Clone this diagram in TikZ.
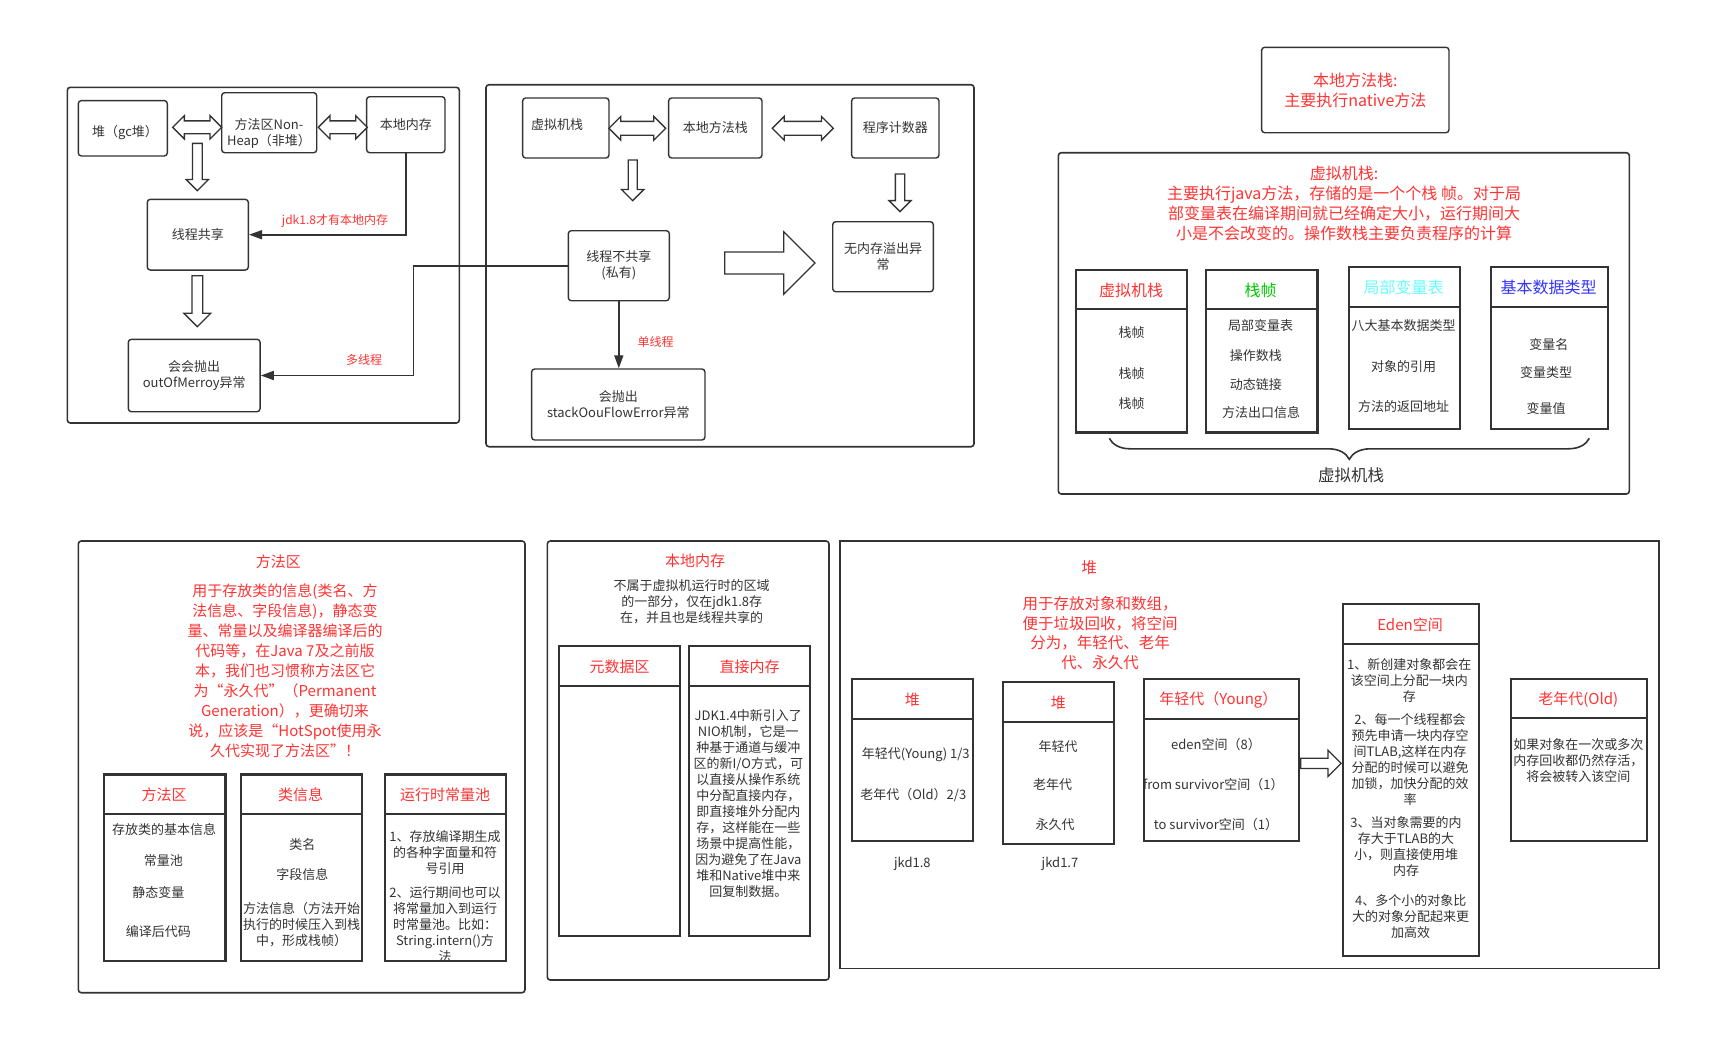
\documentclass[tikz,border=0pt]{standalone}
\usepackage{fontspec}
\setmainfont{Noto Sans CJK SC}
\usetikzlibrary{arrows.meta}
\usetikzlibrary{shapes.arrows}
\usetikzlibrary{decorations.pathreplacing}
\definecolor{linegray}{HTML}{333333}
\definecolor{jred}{HTML}{FF3333}
\definecolor{jgreen}{HTML}{00C800}
\definecolor{jcyan}{HTML}{66FFFF}
\definecolor{jblue}{HTML}{3333FF}

\begin{document}
\begin{tikzpicture}[x=1pt,y=-1pt,
  every node/.style={text=linegray,font=\fontsize{13}{16}\selectfont,inner sep=0pt},
  box/.style={draw=linegray,line width=1.4pt,rounded corners=3pt},
  panel/.style={draw=linegray,line width=1.6pt,rounded corners=3pt},
  tbl/.style={draw=linegray,line width=2.3pt},
  hd/.style={text=jred,font=\fontsize{15}{18}\selectfont},
  hdbig/.style={text=jred,font=\fontsize{16}{19}\selectfont},
  redtxt/.style={text=jred,align=center,font=\fontsize{15}{20}\selectfont},
  note/.style={text=jred,font=\fontsize{12}{14}\selectfont},
  conn/.style={draw=linegray,line width=1.6pt,-{Triangle[length=13pt,width=9pt]}},
  harrow/.style={single arrow,draw=linegray,line width=1.3pt,fill=white,inner xsep=0pt,anchor=tail},
  dharrow/.style={double arrow,draw=linegray,line width=1.3pt,fill=white,inner xsep=0pt}]

\useasboundingbox (0,0) rectangle (1720,1055);

% thread shared part
\draw[panel] (67.3,87.3) rectangle (459.3,423);
\node[box,minimum width=89,minimum height=55.3] (gcheap) at (122.8,128.3) {};
\node (gcheaptxt) at (125,133) {堆（gc堆）};
\node[box,minimum width=95,minimum height=60] (nonheap) at (269.2,122.7) {};
\node[align=center] (nonheaptxt) at (269,133.3) {方法区Non-\\Heap（非堆）};
\node[box,minimum width=78.3,minimum height=56] (localmem) at (405.8,124.7) {本地内存};
\node[box,minimum width=101,minimum height=70.7] (share) at (197.8,234.7) {线程共享};
\node[box,minimum width=131.7,minimum height=72.4,align=center] (oom) at (194.2,375.5) {会会抛出\\outOfMerroy异常};
\node[dharrow,minimum height=49,inner ysep=5.8pt,double arrow head extend=5.2pt] (ga1) at (197.2,127.3) {};
\node[dharrow,minimum height=49,inner ysep=5.8pt,double arrow head extend=5.2pt] (ga2) at (342.8,127.3) {};
\node[harrow,rotate=-90,minimum height=47.3,inner ysep=4.2pt,single arrow head extend=6.3pt] (da1) at (197.3,142.7) {};
\node[harrow,rotate=-90,minimum height=51,inner ysep=4.7pt,single arrow head extend=8pt] (da2) at (197.3,275) {};
\draw[conn] (localmem.south) |- (share.east);
\node[note] (jdknote) at (335,220.7) {jdk1.8才有本地内存};

% thread private part
\draw[panel] (486,84.7) rectangle (974,446.7);
\node[box,minimum width=86.3,minimum height=60] (jvmstack) at (565.8,128) {};
\node (jvmstacktxt) at (557,125) {虚拟机栈};
\node[box,minimum width=93.3,minimum height=60] (nativestack) at (715.3,128) {本地方法栈};
\node[box,minimum width=87.3,minimum height=60] (pc) at (895.3,128) {程序计数器};
\node[dharrow,minimum height=56.7,inner ysep=6.3pt,double arrow head extend=4.9pt] (ga3) at (637.3,128.3) {};
\node[dharrow,minimum height=61,inner ysep=6.3pt,double arrow head extend=4.9pt] (ga4) at (802.8,128.3) {};
\node[harrow,rotate=-90,minimum height=40.7,inner ysep=3.9pt,single arrow head extend=6.6pt] (da3) at (632.7,159.3) {};
\node[harrow,rotate=-90,minimum height=37.7,inner ysep=4pt,single arrow head extend=6.4pt] (da4) at (900,173.3) {};
\node[box,minimum width=101,minimum height=70,align=center] (private) at (618.8,265.7) {线程不共享\\(私有)};
\node[harrow,minimum height=90.3,inner ysep=10.3pt,single arrow head extend=20.2pt] (bigarrow) at (724,263) {};
\node[box,minimum width=100.6,minimum height=70,align=center] (nooverflow) at (883,256.7) {无内存溢出异\\常};
\node[box,minimum width=173.3,minimum height=71,align=center] (soe) at (618.3,404.5) {会抛出\\stackOouFlowError异常};
\draw[conn] (private.south) -- (private.south |- soe.north);
\node[note] (singlenote) at (655.7,342.3) {单线程};
\coordinate (bend) at (413.3,265.7);
\draw[conn] (private.west) -- (bend) |- (oom.east);
\node[note] (multinote) at (364,360) {多线程};

% native method stack and vm stack
\node[box,minimum width=187.3,minimum height=85.4,align=center,text=jred,font=\fontsize{16}{20}\selectfont] (natbox) at (1355.3,90) {本地方法栈:\\主要执行native方法};
\draw[panel] (1058.3,152.7) rectangle (1629.3,494);
\node[redtxt,font=\fontsize{16}{20}\selectfont] (vmdesc) at (1344,203) {虚拟机栈:\\主要执行java方法，存储的是一个个栈 帧。对于局\\部变量表在编译期间就已经确定大小，运行期间大\\小是不会改变的。操作数栈主要负责程序的计算};

\node[tbl,minimum width=111.3,minimum height=162.3] (vmtab) at (1131.3,351.2) {};
\draw[tbl] (vmtab.west |- 0,309.3) -- (vmtab.east |- 0,309.3);
\node[hdbig] (vmtabhd) at (1131,290.7) {虚拟机栈};
\node (vmtab1) at (1131.7,332.7) {栈帧};
\node (vmtab2) at (1131.7,373.3) {栈帧};
\node (vmtab3) at (1131.7,403.3) {栈帧};

\node[tbl,minimum width=111.3,minimum height=162.3] (frametab) at (1261.7,351.2) {};
\draw[tbl] (frametab.west |- 0,309.3) -- (frametab.east |- 0,309.3);
\node[hdbig,text=jgreen] (frametabhd) at (1260.7,290.7) {栈帧};
\node (frametab1) at (1260.5,326) {局部变量表};
\node (frametab2) at (1255.8,356) {操作数栈};
\node (frametab3) at (1255.8,384.3) {动态链接};
\node (frametab4) at (1261.2,412.3) {方法出口信息};

\node[tbl,minimum width=111,minimum height=162.3] (vartab) at (1404.5,347.8) {};
\draw[tbl] (vartab.west |- 0,306.7) -- (vartab.east |- 0,306.7);
\node[hdbig,text=jcyan] (vartabhd) at (1403.7,287.3) {局部变量表};
\node (vartab1) at (1403.5,326) {八大基本数据类型};
\node (vartab2) at (1403.7,366.7) {对象的引用};
\node (vartab3) at (1403.7,406.7) {方法的返回地址};

\node[tbl,minimum width=117,minimum height=162.3] (typetab) at (1549.5,347.8) {};
\draw[tbl] (typetab.west |- 0,306.7) -- (typetab.east |- 0,306.7);
\node[hdbig,text=jblue] (typetabhd) at (1548.5,287.3) {基本数据类型};
\node (typetab1) at (1548.8,344.3) {变量名};
\node (typetab2) at (1546.2,372.3) {变量类型};
\node (typetab3) at (1546.2,409) {变量值};

\draw[draw=linegray,line width=1.6pt,decorate,decoration={brace,amplitude=21pt,mirror}] (1109.3,438.3) -- (1589.3,438.3);
\node[font=\fontsize{16.5}{19}\selectfont] (bracelbl) at (1351,475) {虚拟机栈};

% method area
\draw[panel] (78.3,541) rectangle (525,992.7);
\node[hd] (mathd) at (278.3,561.7) {方法区};
\node[redtxt] (matdesc) at (285,670.5) {用于存放类的信息(类名、方\\法信息、字段信息)，静态变\\量、常量以及编译器编译后的\\代码等，在Java 7及之前版\\本，我们也习惯称方法区它\\为“永久代”（Permanent\\Generation），更确切来\\说，应该是“HotSpot使用永\\久代实现了方法区”！};

\node[tbl,minimum width=121.3,minimum height=186.7] (mtab) at (164.7,867.7) {};
\draw[tbl] (mtab.west |- 0,814.3) -- (mtab.east |- 0,814.3);
\node[hd] (mtabhd) at (164,795) {方法区};
\node (mtab1) at (164,830) {存放类的基本信息};
\node (mtab2) at (163.3,861) {常量池};
\node (mtab3) at (158.3,892.3) {静态变量};
\node (mtab4) at (158.3,931.7) {编译后代码};

\node[tbl,minimum width=121.3,minimum height=186.7] (ctab) at (301.4,867.7) {};
\draw[tbl] (ctab.west |- 0,814.3) -- (ctab.east |- 0,814.3);
\node[hd] (ctabhd) at (300.7,795) {类信息};
\node (ctab1) at (302.3,844.3) {类名};
\node (ctab2) at (302.3,875) {字段信息};
\node[align=center] (ctab3) at (301.5,924.3) {方法信息（方法开始\\执行的时候压入到栈\\中，形成栈帧）};

\node[tbl,minimum width=121,minimum height=186.7] (rtab) at (445.5,867.7) {};
\draw[tbl] (rtab.west |- 0,814.3) -- (rtab.east |- 0,814.3);
\node[hd] (rtabhd) at (445,795) {运行时常量池};
\node[align=center] (rtab1) at (445,852.7) {1、存放编译期生成\\的各种字面量和符\\号引用};
\node[align=center] (rtab2) at (445,924.3) {2、运行期间也可以\\将常量加入到运行\\时常量池。比如：\\String.intern()方\\法};

% native memory
\draw[panel] (547.3,541) rectangle (829,980);
\node[hd] (nmhd) at (695,561) {本地内存};
\node[align=center] (nmdesc) at (691.7,601.7) {不属于虚拟机运行时的区域\\的一部分，仅在jdk1.8存\\在，并且也是线程共享的};

\node[tbl,minimum width=121,minimum height=290] (metatab) at (619.5,791) {};
\draw[tbl] (metatab.west |- 0,686) -- (metatab.east |- 0,686);
\node[hd] (metatabhd) at (619.5,666.7) {元数据区};

\node[tbl,minimum width=121,minimum height=290] (dtab) at (749.5,791) {};
\draw[tbl] (dtab.west |- 0,686) -- (dtab.east |- 0,686);
\node[hd] (dtabhd) at (749.5,666.7) {直接内存};
\node[align=center] (dtab1) at (748.3,803.3) {JDK1.4中新引入了\\NIO机制，它是一\\种基于通道与缓冲\\区的新I/O方式，可\\以直接从操作系统\\中分配直接内存，\\即直接堆外分配内\\存，这样能在一些\\场景中提高性能，\\因为避免了在Java\\堆和Native堆中来\\回复制数据。};

% heap
\draw[panel,rounded corners=0pt] (839.7,541) rectangle (1659,968.3);
\node[hd,font=\fontsize{15.5}{18}\selectfont] (heaphd) at (1089,567.7) {堆};
\node[redtxt,font=\fontsize{15.5}{19.8}\selectfont] (heapdesc) at (1100,633) {用于存放对象和数组，\\便于垃圾回收，将空间\\分为，年轻代、老年\\代、永久代};

\node[tbl,minimum width=121.3,minimum height=162] (h8tab) at (912.3,760) {};
\draw[tbl] (h8tab.west |- 0,718.7) -- (h8tab.east |- 0,718.7);
\node[hd] (h8tabhd) at (912.3,700) {堆};
\node (h8tab1) at (915.8,755) {年轻代(Young) 1/3};
\node (h8tab2) at (913.3,795) {老年代（Old）2/3};
\node (h8lbl) at (912.3,864.3) {jkd1.8};

\node[tbl,minimum width=111.3,minimum height=162.3] (h7tab) at (1058.3,762.8) {};
\draw[tbl] (h7tab.west |- 0,721.7) -- (h7tab.east |- 0,721.7);
\node[hd] (h7tabhd) at (1058.3,702.7) {堆};
\node (h7tab1) at (1058,747) {年轻代};
\node (h7tab2) at (1052.7,784.3) {老年代};
\node (h7tab3) at (1055,824.3) {永久代};
\node (h7lbl) at (1060,864.3) {jkd1.7};

\node[tbl,minimum width=155,minimum height=162] (ytab) at (1221.5,760) {};
\draw[tbl] (ytab.west |- 0,718.7) -- (ytab.east |- 0,718.7);
\node[hd] (ytabhd) at (1218.3,700) {年轻代（Young）};
\node (ytab1) at (1216,744.3) {eden空间（8）};
\node (ytab2) at (1213.3,784.3) {from survivor空间（1）};
\node (ytab3) at (1216,824.3) {to survivor空间（1）};

\node[harrow,minimum height=40.3,inner ysep=4.5pt,single arrow head extend=8pt] (yearrow) at (ytab.east |- 0,763.3) {};

\node[tbl,minimum width=136.3,minimum height=352] (etab) at (1410.8,780) {};
\draw[tbl] (etab.west |- 0,644) -- (etab.east |- 0,644);
\node[hd] (etabhd) at (1410,624.3) {Eden空间};
\node[align=center] (etab1) at (1409.3,680.3) {1、新创建对象都会在\\该空间上分配一块内\\存};
\node[align=center] (etab2) at (1410,760) {2、每一个线程都会\\预先申请一块内存空\\间TLAB,这样在内存\\分配的时候可以避免\\加锁，加快分配的效\\率};
\node[align=center] (etab3) at (1406,846.3) {3、当对象需要的内\\存大于TLAB的大\\小，则直接使用堆\\内存};
\node[align=center] (etab4) at (1410.7,916.7) {4、多个小的对象比\\大的对象分配起来更\\加高效};

\node[tbl,minimum width=135.7,minimum height=162] (otab) at (1578.8,760) {};
\draw[tbl] (otab.west |- 0,718.3) -- (otab.east |- 0,718.3);
\node[hd] (otabhd) at (1578.3,699.3) {老年代(Old)};
\node[align=center] (otab1) at (1578.3,760.3) {如果对象在一次或多次\\内存回收都仍然存活，\\将会被转入该空间};
\end{tikzpicture}
\end{document}
